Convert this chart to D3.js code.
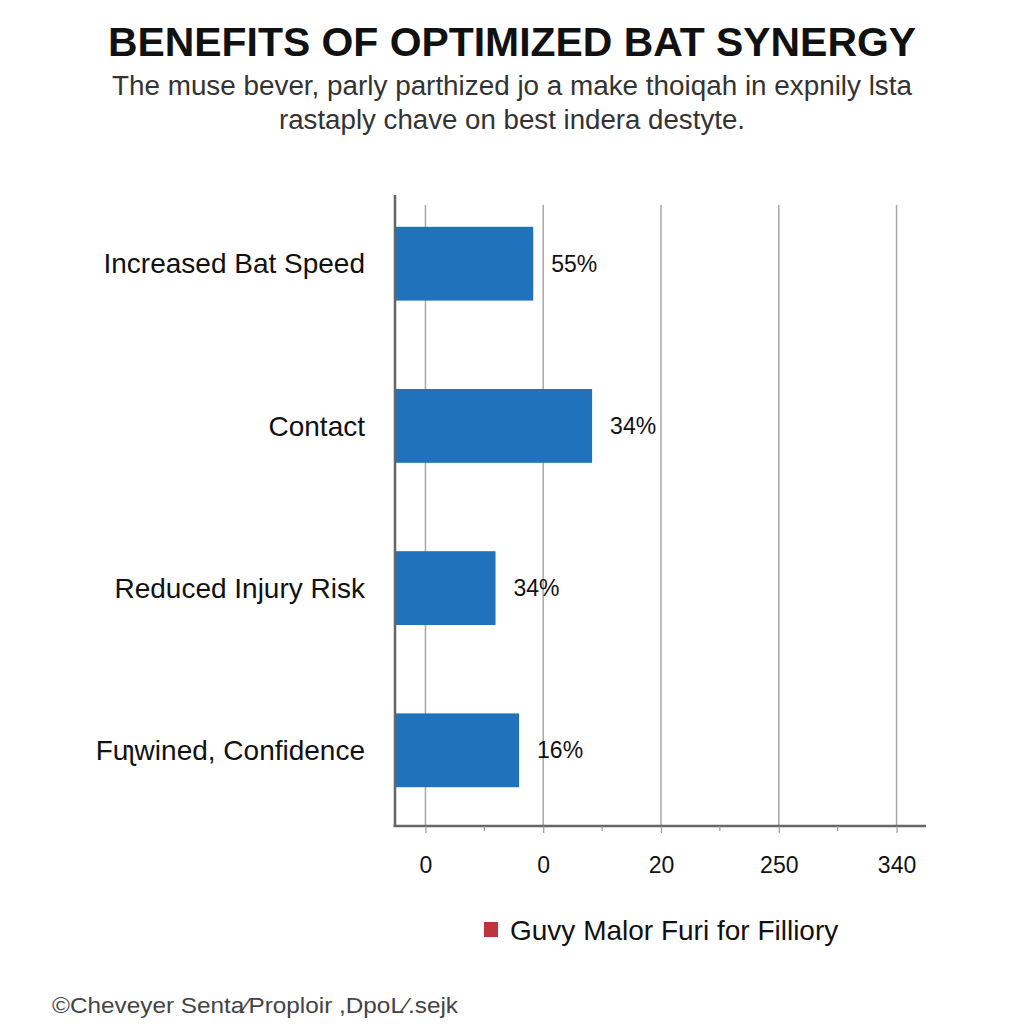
<!DOCTYPE html>
<html>
<head>
<meta charset="utf-8">
<script src="https://cdn.jsdelivr.net/npm/d3@7"></script>
<style>
  html, body { margin: 0; padding: 0; background: #ffffff; }
  svg { display: block; }
</style>
</head>
<body>
<script>
// ---- Data ----
const title = "BENEFITS OF OPTIMIZED BAT SYNERGY";
const subtitleLines = [
  "The muse bever, parly parthized jo a make thoiqah in expnily lsta",
  "rastaply chave on best indera destyte."
];
const categories = ["Increased Bat Speed", "Contact", "Reduced Injury Risk", "Fu\u0285wined, Confidence"];
const barValues = [18.3, 28.3, 11.9, 15.9];
const valueLabels = ["55%", "34%", "34%", "16%"];
const tickValues = [0, 20, 40, 60, 80];
const tickLabels = ["0", "0", "20", "250", "340"];
const minorTicks = [10, 30, 50, 70];
const legendLabel = "Guvy Malor Furi for Filliory";
const footer = "\u00A9Cheveyer Senta\u2044Proploir ,DpoL\u2044.sejk";

const W = 1024, H = 1024;
const font = "'Liberation Sans', Arial, Helvetica, sans-serif";

const svg = d3.select("body").append("svg").attr("width", W).attr("height", H);
svg.append("rect").attr("width", W).attr("height", H).attr("fill", "#ffffff");

// Title
svg.append("text").attr("x", 512).attr("y", 56).attr("text-anchor", "middle")
  .attr("font-family", font).attr("font-weight", "bold").attr("font-size", 41)
  .attr("textLength", 808).attr("lengthAdjust", "spacingAndGlyphs")
  .attr("fill", "#111").text(title);

const subLens = [800, 466];
svg.selectAll("text.sub").data(subtitleLines).enter().append("text")
  .attr("class", "sub")
  .attr("x", 512).attr("y", (d, i) => 95 + i * 34)
  .attr("text-anchor", "middle").attr("font-family", font)
  .attr("font-size", 27).attr("fill", "#333")
  .attr("textLength", (d, i) => subLens[i]).attr("lengthAdjust", "spacingAndGlyphs")
  .text(d => d);

// Scales
const x = d3.scaleLinear().domain([-5, 85]).range([396, 926]);
const y = d3.scaleBand().domain(categories).range([183, 831]).paddingInner(0.545).paddingOuter(0.27);

const axisY = 826;

// Gridlines
svg.append("g").selectAll("line").data(tickValues).enter().append("line")
  .attr("x1", d => x(d)).attr("x2", d => x(d))
  .attr("y1", 205).attr("y2", axisY)
  .attr("stroke", "#a8a8a8").attr("stroke-width", 1.5);

// Bars
svg.append("g").selectAll("rect").data(barValues).enter().append("rect")
  .attr("x", x(-5))
  .attr("y", (d, i) => y(categories[i]))
  .attr("width", d => x(d) - x(-5))
  .attr("height", y.bandwidth())
  .attr("fill", "#1f72bb");

// Value labels
svg.append("g").selectAll("text").data(barValues).enter().append("text")
  .attr("x", d => x(d) + 18)
  .attr("y", (d, i) => y(categories[i]) + y.bandwidth() / 2)
  .attr("dy", "0.35em")
  .attr("font-family", font).attr("font-size", 23).attr("fill", "#111")
  .text((d, i) => valueLabels[i]);

// Category labels
svg.append("g").selectAll("text").data(categories).enter().append("text")
  .attr("x", 365)
  .attr("y", d => y(d) + y.bandwidth() / 2)
  .attr("dy", "0.35em").attr("text-anchor", "end")
  .attr("font-family", font).attr("font-size", 28).attr("fill", "#111")
  .text(d => d);

// X axis
const xAxis = d3.axisBottom(x).tickValues(tickValues)
  .tickFormat((d, i) => tickLabels[i]).tickSize(7).tickSizeOuter(0).tickPadding(24);
const gx = svg.append("g").attr("transform", `translate(0,${axisY})`).call(xAxis);
gx.select(".domain").attr("stroke", "#666").attr("stroke-width", 2.5)
  .attr("d", `M${x(-5.4)},0H${x(85)}`);
gx.selectAll(".tick line").attr("stroke", "#999").attr("stroke-width", 1.2);
gx.selectAll(".tick text").attr("font-family", font).attr("font-size", 23).attr("fill", "#111");
gx.selectAll("line.minor").data(minorTicks).enter().append("line").attr("class", "minor")
  .attr("x1", d => x(d)).attr("x2", d => x(d)).attr("y1", 0).attr("y2", 5)
  .attr("stroke", "#999").attr("stroke-width", 1.2);

// Y axis line
svg.append("line").attr("x1", x(-5) - 1).attr("x2", x(-5) - 1)
  .attr("y1", 195).attr("y2", axisY + 1)
  .attr("stroke", "#666").attr("stroke-width", 2.5);

// Legend
const lg = svg.append("g").attr("transform", "translate(484,922)");
lg.append("rect").attr("width", 14).attr("height", 15).attr("fill", "#c0333a");
lg.append("text").attr("x", 26).attr("y", 8).attr("dy", "0.35em")
  .attr("font-family", font).attr("font-size", 28).attr("fill", "#111").text(legendLabel);

// Footer
svg.append("text").attr("x", 52).attr("y", 1013)
  .attr("font-family", font).attr("font-size", 22).attr("fill", "#444")
  .attr("textLength", 406).attr("lengthAdjust", "spacingAndGlyphs").text(footer);
</script>
</body>
</html>
